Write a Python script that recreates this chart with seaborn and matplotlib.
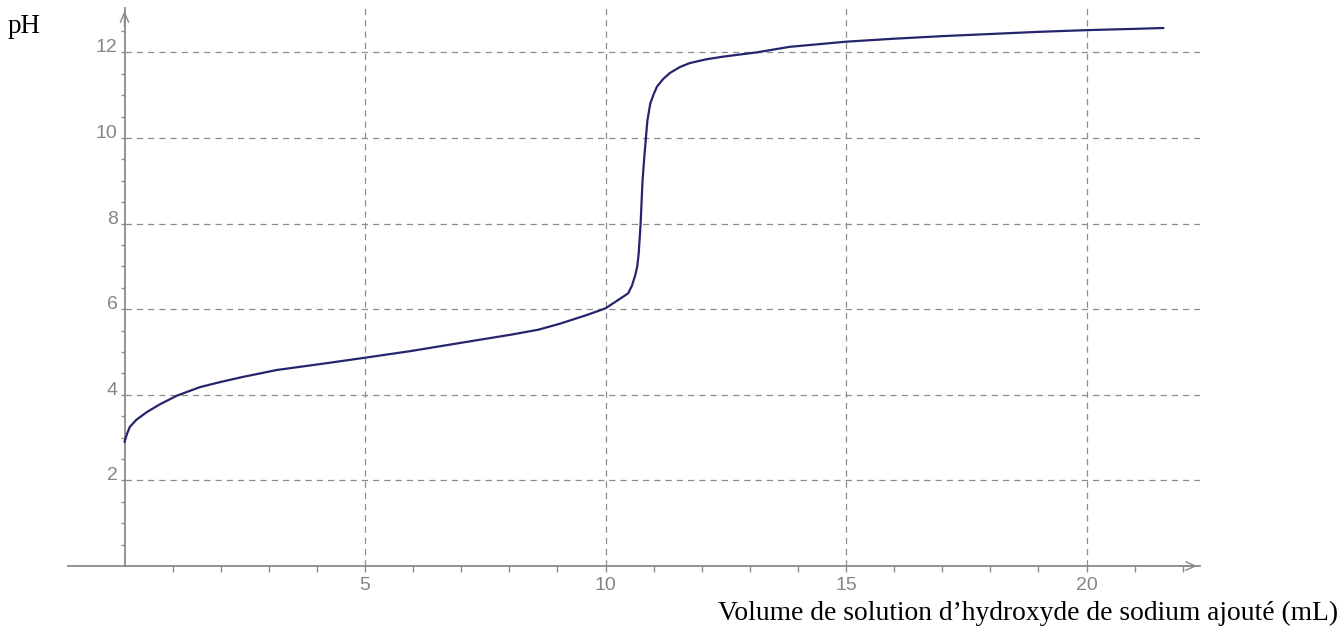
import matplotlib
matplotlib.use("Agg")
import matplotlib.pyplot as plt
import seaborn as sns
import numpy as np
import pandas as pd

# ---- data ----
volume_mL = [0, 0.05, 0.11, 0.25, 0.47, 0.74, 1.09, 1.57, 2.0, 2.47, 3.17, 4.21,
             4.96, 5.94, 6.97, 8.01, 8.6, 9.05, 9.6, 10.0, 10.27, 10.47, 10.55,
             10.62, 10.66, 10.69, 10.73, 10.77, 10.81, 10.84, 10.87, 10.93, 11.0,
             11.07, 11.2, 11.34, 11.55, 11.75, 12.1, 12.44, 13.14, 13.83, 15, 16,
             17, 18, 19, 20, 21, 21.6]
pH_values = [2.9, 3.08, 3.25, 3.42, 3.6, 3.78, 3.98, 4.18, 4.3, 4.42, 4.58, 4.74,
             4.86, 5.02, 5.21, 5.4, 5.52, 5.66, 5.86, 6.02, 6.22, 6.37, 6.55,
             6.8, 7.0, 7.3, 8.0, 9.0, 9.6, 10.0, 10.4, 10.8, 11.02, 11.2, 11.38,
             11.52, 11.66, 11.75, 11.84, 11.9, 12.0, 12.13, 12.25, 12.32, 12.38,
             12.43, 12.48, 12.52, 12.55, 12.57]
x_major = [5, 10, 15, 20]
y_major = [2, 4, 6, 8, 10, 12]
x_label = "Volume de solution d\u2019hydroxyde de sodium ajouté (mL)"
y_label = "pH"

df = pd.DataFrame({"v": volume_mL, "ph": pH_values})

sns.set_style("white")
plt.rcParams["font.family"] = ["Liberation Sans", "DejaVu Sans"]

W, H = 1341, 630
fig = plt.figure(figsize=(W / 100, H / 100), dpi=100)

# pixel mapping: x=0 at 124.5px, 48.1 px/unit ; y=0 at 566px, 42.8 px/unit
left_px, right_px = 68, 1200
top_px, bot_px = 8, 566
x0_px, xs = 124.5, 48.1
y0_px, ys = 566, 42.8
ax = fig.add_axes([left_px / W, (H - bot_px) / H, (right_px - left_px) / W,
                   (bot_px - top_px) / H])
xlim = ((left_px - x0_px) / xs, (right_px - x0_px) / xs)
ylim = (0, (y0_px - top_px) / ys)
ax.set_xlim(*xlim)
ax.set_ylim(*ylim)

gray = "#8a8a8a"
grid_kw = dict(color="#8c8c8c", lw=0.9, linestyle=(0, (5, 4)), zorder=1)
ax.hlines(y_major, 0, xlim[1] + 0.05, **grid_kw)
ax.vlines(x_major, 0, ylim[1], **grid_kw)

sns.lineplot(data=df, x="v", y="ph", ax=ax, color="#25256e", lw=1.6,
             sort=False, estimator=None, zorder=3)

for s in ["top", "right"]:
    ax.spines[s].set_visible(False)
ax.spines["left"].set_position(("data", 0))
for s in ["left", "bottom"]:
    ax.spines[s].set_color(gray)
    ax.spines[s].set_linewidth(1.3)

ax.set_xticks(x_major)
ax.set_xticks(np.arange(1, 23, 1), minor=True)
ax.set_yticks(y_major)
ax.set_yticks(np.arange(0.5, 13, 0.5), minor=True)
ax.set_xticklabels([str(v) for v in x_major])
ax.set_yticklabels([str(v) for v in y_major], va="baseline")
ax.tick_params(axis="x", which="both", bottom=True, direction="out", length=4,
               width=1, color=gray, labelcolor="#858585", labelsize=14, pad=4)
ax.tick_params(axis="y", which="both", left=True, direction="out", length=3,
               width=1, color=gray, labelcolor="#858585", labelsize=14, pad=2)
ax.set_xlabel("")
ax.set_ylabel("")

# axis arrowheads
ax.annotate("", xy=(xlim[1], 0), xytext=(xlim[1] - 0.5, 0),
            arrowprops=dict(arrowstyle="->,head_length=0.7,head_width=0.3",
                            color=gray, lw=1.0), annotation_clip=False)
ax.annotate("", xy=(0, ylim[1]), xytext=(0, ylim[1] - 0.5),
            arrowprops=dict(arrowstyle="->,head_length=0.7,head_width=0.3",
                            color=gray, lw=1.0), annotation_clip=False)

fig.text(8 / W, (H - 33) / H, y_label, family="Liberation Serif",
         fontsize=19.5, color="black", ha="left", va="baseline")
fig.text(1338 / W, (H - 620) / H, x_label, family="Liberation Serif",
         fontsize=19.8, color="black", ha="right", va="baseline")

fig.savefig("out.png", dpi=100)
